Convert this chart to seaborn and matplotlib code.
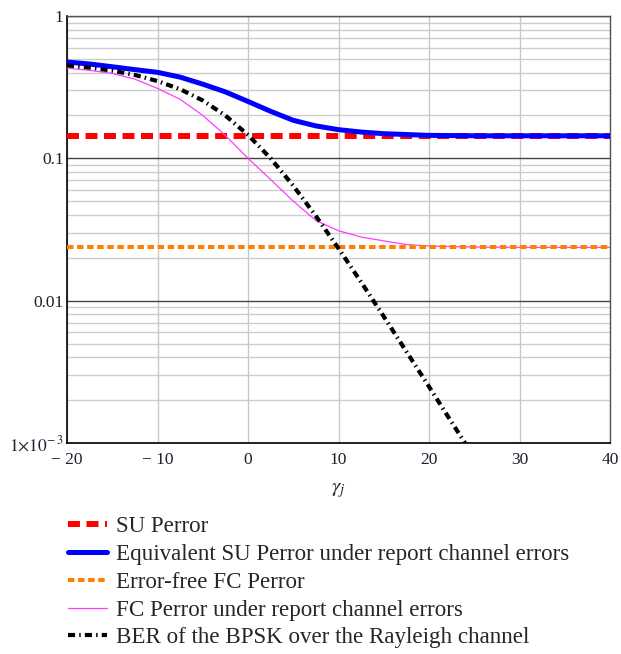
import matplotlib
matplotlib.use("Agg")
import matplotlib.pyplot as plt
import seaborn as sns
from matplotlib.ticker import FixedLocator, LogLocator, NullFormatter

# values
gamma = [-20, -17.5, -15, -12.5, -10, -7.5, -5, -2.5, 0, 2.5, 5, 7.5,
         10, 12.5, 15, 17.5, 20, 25, 30, 35, 40]
eq_su_perror = [0.475, 0.46, 0.44, 0.42, 0.402, 0.372, 0.332, 0.293, 0.251, 0.214, 0.185, 0.169,
                0.159, 0.153, 0.149, 0.147, 0.145, 0.144, 0.144, 0.144, 0.144]
fc_perror = [0.43, 0.415, 0.395, 0.36, 0.31, 0.26, 0.20, 0.145, 0.10, 0.071, 0.050, 0.0366,
             0.031, 0.028, 0.0263, 0.0248, 0.0242, 0.0238, 0.0237, 0.0237, 0.0237]

flat_gamma = [-20, 40]
su_perror = [0.143, 0.143]
fc_free_perror = [0.0237, 0.0237]

ber_gamma = [-20, -17.5, -15, -12.5, -10, -7.5, -5, -2.5, 0, 2.5, 5, 7.5,
             10, 12.5, 15, 17.5, 20, 22.5, 24]
ber_bpsk = [0.450, 0.434, 0.413, 0.385, 0.349, 0.306, 0.255, 0.200, 0.146, 0.100, 0.0642, 0.0393,
            0.0233, 0.0135, 0.00774, 0.00439, 0.00249, 0.0014, 0.000995]

x_ticks = [-20, -10, 0, 10, 20, 30, 40]
x_tick_labels = ["\u2212 20", "\u2212 10", "0", "10", "20", "30", "40"]
y_ticks = [1e-3, 1e-2, 1e-1, 1]
y_tick_labels = [r"$\mathrm{1{\times}10^{-\,3}}$", "0.01", "0.1", "1"]

labels = ["SU Perror",
          "Equivalent SU Perror under report channel errors",
          "Error-free FC Perror",
          "FC Perror under report channel errors",
          "BER of the BPSK over the Rayleigh channel"]

sns.set_style("white")
plt.rcParams["font.family"] = ["Liberation Serif", "DejaVu Serif"]
plt.rcParams["mathtext.fontset"] = "stix"

fig = plt.figure(figsize=(6.21, 6.54), dpi=100)
ax = fig.add_axes([67 / 621, 1 - 443 / 654, 543 / 621, 427 / 654])

sns.lineplot(x=flat_gamma, y=su_perror, ax=ax, color="#ff0000", lw=4.3,
             linestyle=(0, (2.0, 1.1)), label=labels[0], zorder=3)
sns.lineplot(x=gamma, y=eq_su_perror, ax=ax, color="#0000ff", lw=3.6,
             label=labels[1], zorder=4)
sns.lineplot(x=gamma, y=fc_perror, ax=ax, color="#ff3cff", lw=0.9,
             label=labels[3], zorder=3)
sns.lineplot(x=flat_gamma, y=fc_free_perror, ax=ax, color="#ff8000", lw=2.9,
             linestyle=(0, (1.6, 0.9)), label=labels[2], zorder=4)
sns.lineplot(x=ber_gamma, y=ber_bpsk, ax=ax, color="black", lw=3.0,
             linestyle=(0, (1.7, 1.0, 0.35, 1.0)), label=labels[4], zorder=5)

ax.set_yscale("log")
ax.set_xlim(-20, 40)
ax.set_ylim(1e-3, 1)

ax.xaxis.set_major_locator(FixedLocator(x_ticks))
ax.set_xticklabels(x_tick_labels)
ax.set_yticks(y_ticks)
ax.set_yticklabels(y_tick_labels)
ax.yaxis.set_minor_locator(LogLocator(base=10, subs=range(2, 10)))
ax.yaxis.set_minor_formatter(NullFormatter())
ax.tick_params(which="both", length=0, labelsize=12.5, colors="#1e1e2e")
ax.tick_params(axis="x", pad=6.5)
ax.tick_params(axis="y", pad=2.5)

ax.grid(which="major", axis="x", color="#c8c8c8", lw=1.0)
ax.grid(which="major", axis="y", color="#444444", lw=1.0)
ax.grid(which="minor", axis="y", color="#cccccc", lw=1.0)
ax.set_axisbelow(True)
for side in ["left", "bottom"]:
    ax.spines[side].set_color("black")
    ax.spines[side].set_linewidth(1.2)
for side in ["top", "right"]:
    ax.spines[side].set_color("#555555")
    ax.spines[side].set_linewidth(1.0)

ax.set_xlabel(r"$\gamma_j$", fontsize=15, labelpad=9)
ax.set_ylabel("")

handles, lbls = ax.get_legend_handles_labels()
if ax.get_legend() is not None:
    ax.get_legend().remove()
order = [lbls.index(l) for l in labels]
fig.legend([handles[i] for i in order], labels, loc="upper left",
           bbox_to_anchor=(68 / 621, 1 - 516 / 654), frameon=False,
           fontsize=16.6, handlelength=1.7, handletextpad=0.4,
           labelspacing=0.29, borderpad=0, borderaxespad=0)

fig.savefig("out.png", dpi=100)
